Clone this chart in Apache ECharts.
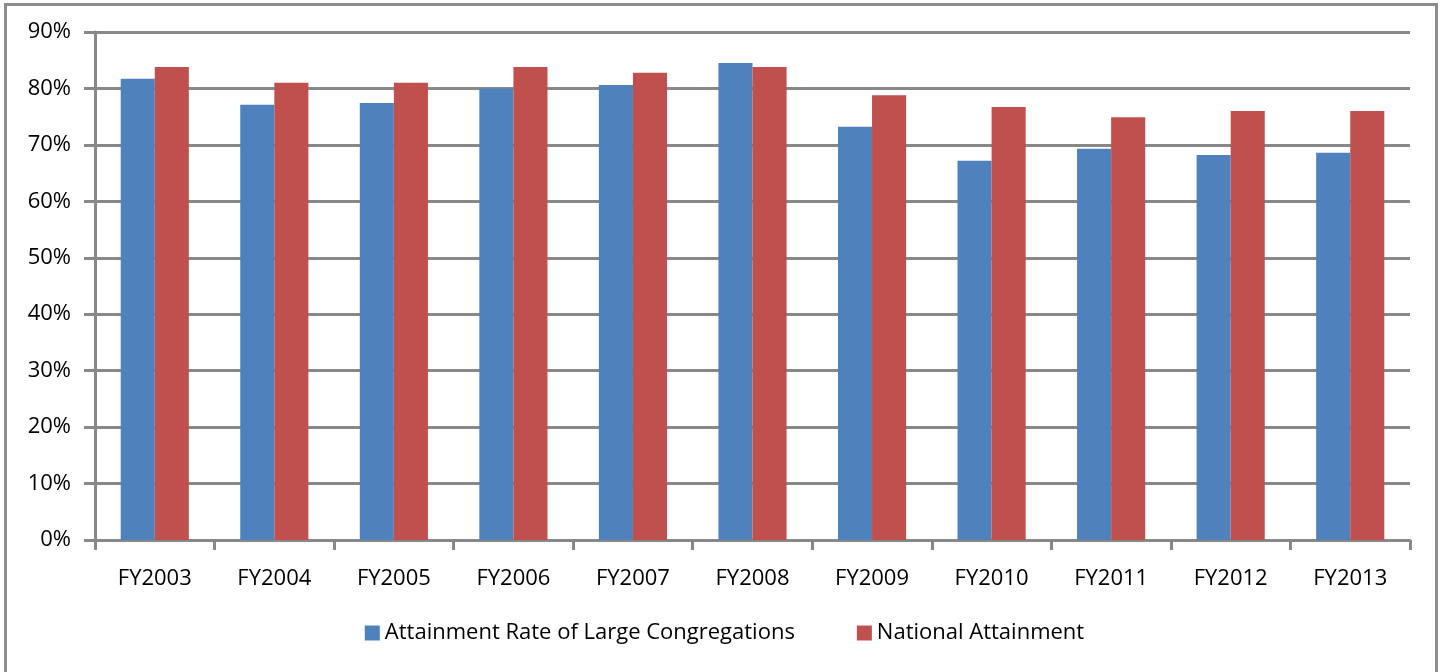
<!DOCTYPE html>
<html>
<head>
<meta charset="utf-8">
<script src="https://cdn.jsdelivr.net/npm/echarts@6/dist/echarts.min.js"></script>
<style>
  html, body { margin: 0; padding: 0; background: #fff; }
  #frame {
    position: absolute; left: 4px; top: 3px; width: 1434px; height: 690px;
    border: 3px solid #8c8c8c; box-sizing: border-box;
  }
  #chart { position: absolute; left: 0; top: 0; width: 1449px; height: 672px; }
</style>
</head>
<body>
<div id="frame"></div>
<div id="chart"></div>
<script>
// 数据
var years = ['FY2003', 'FY2004', 'FY2005', 'FY2006', 'FY2007', 'FY2008',
             'FY2009', 'FY2010', 'FY2011', 'FY2012', 'FY2013'];
var largeRate = [81.7, 77.1, 77.4, 80.0, 80.6, 84.5, 73.2, 67.2, 69.3, 68.2, 68.6];
var nationalRate = [83.8, 81.0, 81.0, 83.8, 82.8, 83.8, 78.8, 76.7, 74.9, 76.0, 76.0];
var seriesNames = ['Attainment Rate of Large Congregations', 'National Attainment'];

var font = '"Open Sans", "Liberation Sans", sans-serif';
var gray = '#888888';

var myChart = echarts.init(document.getElementById('chart'));
myChart.setOption({
  animation: false,
  grid: { left: 95, right: 39, top: 32, bottom: 132 },
  legend: {
    data: seriesNames,
    top: 617,
    left: 'center',
    icon: 'rect',
    itemWidth: 15,
    itemHeight: 15,
    itemGap: 62,
    textStyle: { color: '#000', fontSize: 22, fontFamily: font }
  },
  xAxis: {
    type: 'category',
    data: years,
    axisLine: { lineStyle: { color: gray, width: 3 } },
    axisTick: { show: true, length: 10, lineStyle: { color: gray, width: 3 } },
    axisLabel: { color: '#000', fontSize: 22, fontFamily: font, margin: 28 }
  },
  yAxis: {
    type: 'value',
    min: 0,
    max: 90,
    interval: 10,
    axisLine: { show: true, lineStyle: { color: gray, width: 3 } },
    axisTick: { show: true, length: 11, lineStyle: { color: gray, width: 3 } },
    axisLabel: { color: '#000', fontSize: 22, fontFamily: font, margin: 24, formatter: '{value}%' },
    splitLine: { lineStyle: { color: gray, width: 3 } }
  },
  series: [
    {
      name: seriesNames[0],
      type: 'bar',
      data: largeRate,
      barGap: '0%',
      barCategoryGap: '43%',
      itemStyle: { color: '#4f81bd' }
    },
    {
      name: seriesNames[1],
      type: 'bar',
      data: nationalRate,
      itemStyle: { color: '#c0504d' }
    }
  ]
});
</script>
</body>
</html>
